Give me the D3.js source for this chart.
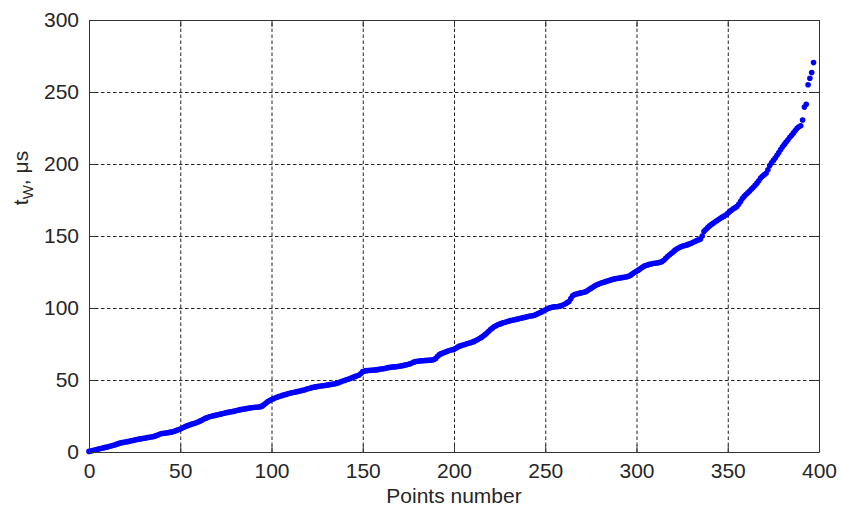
<!DOCTYPE html>
<html>
<head>
<meta charset="utf-8">
<script src="https://cdn.jsdelivr.net/npm/d3@7"></script>
<style>
  body { margin: 0; background: #fff; }
  svg { display: block; font-family: "Liberation Sans", Arial, sans-serif; }
  .grid line { stroke: #222; stroke-dasharray: 3.5,2.5; }
  .grid path { display: none; }
  .axis path, .axis line { stroke: #333; }
  .axis text { fill: #262626; font-size: 21px; }
</style>
</head>
<body>
<svg id="chart"></svg>
<script>
const tw = [
  0.4, 0.7, 1.0, 1.3, 1.6, 2.0, 2.3, 2.6, 2.9, 3.2,
  3.5, 3.8, 4.2, 4.5, 4.9, 5.3, 5.8, 6.3, 6.5, 6.7,
  6.9, 7.2, 7.5, 7.8, 8.0, 8.3, 8.6, 8.9, 9.1, 9.3,
  9.5, 9.7, 10.0, 10.2, 10.4, 10.6, 11.0, 11.5, 12.0, 12.5,
  12.8, 13.0, 13.2, 13.4, 13.6, 13.8, 14.1, 14.5, 15.0, 15.5,
  16.0, 16.6, 17.2, 17.8, 18.3, 18.8, 19.2, 19.6, 20.0, 20.5,
  21.0, 21.6, 22.2, 22.9, 23.5, 24.0, 24.4, 24.8, 25.1, 25.4,
  25.7, 26.0, 26.3, 26.6, 26.9, 27.2, 27.5, 27.8, 28.0, 28.2,
  28.5, 28.8, 29.1, 29.4, 29.7, 29.9, 30.1, 30.3, 30.5, 30.7,
  30.9, 31.0, 31.1, 31.3, 31.5, 32.0, 33.0, 34.0, 35.0, 35.8,
  36.5, 37.0, 37.5, 38.0, 38.5, 38.9, 39.3, 39.7, 40.0, 40.4,
  40.8, 41.1, 41.3, 41.6, 41.9, 42.2, 42.5, 42.8, 43.1, 43.5,
  43.9, 44.3, 44.7, 45.0, 45.2, 45.4, 45.6, 45.8, 46.0, 46.2,
  46.4, 46.6, 46.8, 47.0, 47.2, 47.5, 47.8, 48.3, 48.8, 49.3,
  49.7, 50.1, 50.5, 51.0, 51.5, 52.0, 52.5, 53.0, 53.5, 54.5,
  55.8, 56.3, 56.5, 56.6, 56.7, 56.8, 56.9, 57.0, 57.2, 57.4,
  57.6, 57.8, 58.0, 58.3, 58.6, 58.8, 59.0, 59.1, 59.2, 59.4,
  59.6, 59.8, 60.0, 60.3, 60.6, 60.9, 61.3, 61.8, 62.4, 62.8,
  63.0, 63.2, 63.3, 63.4, 63.5, 63.6, 63.7, 63.8, 63.9, 64.2,
  65.0, 66.5, 67.6, 68.3, 68.8, 69.3, 69.8, 70.3, 70.7, 71.0,
  71.3, 72.0, 72.8, 73.5, 73.9, 74.3, 74.7, 75.1, 75.5, 75.9,
  76.3, 76.8, 77.4, 78.1, 78.8, 79.6, 80.5, 81.5, 82.6, 83.8,
  85.0, 86.0, 86.9, 87.7, 88.3, 88.8, 89.3, 89.7, 90.1, 90.5,
  90.9, 91.2, 91.5, 91.8, 92.1, 92.4, 92.7, 93.0, 93.3, 93.6,
  93.9, 94.2, 94.4, 94.6, 95.0, 95.5, 96.1, 96.7, 97.3, 97.9,
  98.6, 99.3, 99.9, 100.3, 100.6, 100.8, 100.9, 101.0, 101.3, 101.7,
  102.3, 103.0, 103.7, 104.5, 106.5, 108.5, 109.3, 109.7, 110.0, 110.3,
  110.6, 110.9, 111.3, 112.0, 112.8, 113.6, 114.4, 115.2, 115.9, 116.5,
  117.0, 117.5, 117.9, 118.3, 118.7, 119.1, 119.5, 119.9, 120.2, 120.5,
  120.7, 120.9, 121.1, 121.3, 121.5, 121.8, 122.2, 123.0, 124.0, 124.8,
  125.5, 126.3, 127.2, 128.1, 128.9, 129.5, 129.9, 130.3, 130.6, 130.9,
  131.1, 131.3, 131.5, 131.8, 132.3, 133.2, 134.5, 135.8, 136.8, 137.8,
  138.9, 140.0, 141.0, 141.7, 142.3, 142.8, 143.2, 143.6, 144.0, 144.5,
  145.0, 145.6, 146.2, 146.8, 147.3, 147.8, 150.0, 153.2, 154.5, 155.8,
  157.0, 157.9, 158.8, 159.7, 160.6, 161.5, 162.3, 163.1, 163.8, 164.6,
  165.8, 166.9, 167.9, 168.9, 169.7, 170.4, 172.0, 174.0, 176.0, 177.5,
  178.8, 180.0, 181.3, 182.6, 183.8, 185.2, 186.7, 188.4, 190.2, 191.5,
  192.5, 193.5, 196.0, 199.0, 200.8, 202.5, 204.2, 206.0, 208.0, 210.0,
  212.0, 213.6, 215.2, 216.8, 218.5, 220.0, 221.6, 223.2, 224.8, 225.8,
  226.6, 230.6, 239.5, 241.5, 255.0, 259.5, 263.5, 270.4
];
const xTicks = [0, 50, 100, 150, 200, 250, 300, 350, 400];
const yTicks = [0, 50, 100, 150, 200, 250, 300];

const W = 841, H = 511;
const margin = {top: 20, right: 22, bottom: 59, left: 89};
const width = W - margin.left - margin.right;
const height = H - margin.top - margin.bottom;

const svg = d3.select('#chart').attr('width', W).attr('height', H);
const chart = svg.append('g')
  .attr('transform', `translate(${margin.left}, ${margin.top})`);

const xScale = d3.scaleLinear().domain([0, 400]).range([0, width]);
const yScale = d3.scaleLinear().domain([0, 300]).range([height, 0]);

// grid (dotted, inner ticks only)
chart.append('g')
  .attr('class', 'grid')
  .attr('transform', `translate(0, ${height})`)
  .call(d3.axisBottom(xScale)
    .tickValues(xTicks.slice(1, -1))
    .tickSize(-height)
    .tickFormat(''));

chart.append('g')
  .attr('class', 'grid')
  .call(d3.axisLeft(yScale)
    .tickValues(yTicks.slice(1, -1))
    .tickSize(-width)
    .tickFormat(''));

// points
chart.append('g')
  .selectAll('circle')
  .data(tw)
  .enter()
  .append('circle')
  .attr('cx', (d, i) => xScale(i))
  .attr('cy', d => yScale(d))
  .attr('r', 2.8)
  .attr('fill', '#0000ff');

// box with inward ticks on all four sides
const tick = 7;
chart.append('g')
  .attr('class', 'axis')
  .attr('transform', `translate(0, ${height})`)
  .call(d3.axisBottom(xScale).tickValues(xTicks).tickSizeInner(-tick).tickSizeOuter(0).tickPadding(11));

chart.append('g')
  .attr('class', 'axis')
  .call(d3.axisTop(xScale).tickValues(xTicks).tickSizeInner(-tick).tickSizeOuter(0).tickFormat(''));

chart.append('g')
  .attr('class', 'axis')
  .call(d3.axisLeft(yScale).tickValues(yTicks).tickSizeInner(-tick).tickSizeOuter(0).tickPadding(10));

chart.append('g')
  .attr('class', 'axis')
  .attr('transform', `translate(${width}, 0)`)
  .call(d3.axisRight(yScale).tickValues(yTicks).tickSizeInner(-tick).tickSizeOuter(0).tickFormat(''));

// labels
svg.append('text')
  .attr('x', margin.left + width / 2)
  .attr('y', 503)
  .attr('text-anchor', 'middle')
  .attr('fill', '#262626')
  .style('font-size', '21px')
  .text('Points number');

const yl = svg.append('text')
  .attr('transform', 'translate(28, 178) rotate(-90)')
  .attr('text-anchor', 'middle')
  .attr('fill', '#262626')
  .style('font-size', '21px');
yl.append('tspan').text('t');
yl.append('tspan').attr('dy', 5).style('font-size', '15px').text('W');
yl.append('tspan').attr('dy', -5).text(', μs');
</script>
</body>
</html>
